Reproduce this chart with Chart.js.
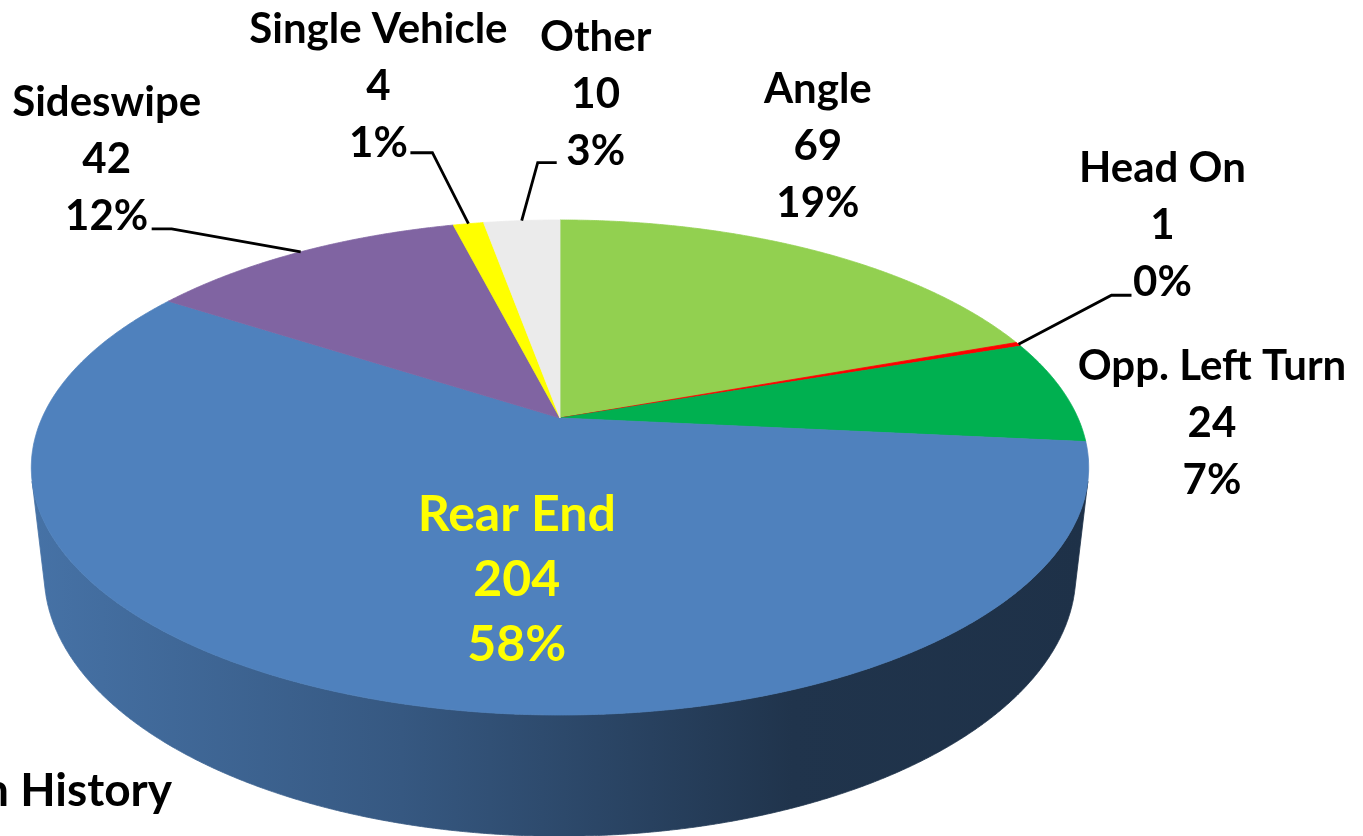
<!DOCTYPE html>
<html>
<head>
<meta charset="utf-8">
<script src="https://cdn.jsdelivr.net/npm/chart.js@4.4.0/dist/chart.umd.min.js"></script>
<style>
  html, body { margin: 0; padding: 0; background: #ffffff; overflow: hidden; }
  #wrap { position: absolute; left: 0; top: 0; width: 1363px; height: 836px; }
</style>
</head>
<body>
<div id="wrap"><canvas id="c" width="1363" height="836"></canvas></div>
<script>
// ---------------- data ----------------
const categories = ['Angle', 'Head On', 'Opp. Left Turn', 'Rear End', 'Sideswipe', 'Single Vehicle', 'Other'];
const crashCounts = [69, 1, 24, 204, 42, 4, 10];
const chartTitle = 'Collision History';

// ---------------- styles ----------------
const sliceColors = ['#92d050', '#ff0000', '#00b050', '#4f81bd', '#8064a2', '#ffff00', '#ebebeb'];

// perspective camera (unit pie radius)
const CAM = { L: 4.444, sin: 0.4587, cos: 0.8886, F: 2302, H: 0.2325 };

// label placement relative to slice rim mid-point; leader points relative to label centre
const labelLayout = [
  { dx: 2,    dy: -104 },
  { dx: 144,  dy: -119, leader: [[-31, 70], [-51, 70]] },
  { dx: 149,  dy: 32 },
  { dx: 168,  dy: -114, inside: true },
  { dx: -194, dy: -92,  leader: [[45, 69], [65, 69]] },
  { dx: -90,  dy: -137, leader: [[32, 66], [54, 66]] },
  { dx: 74,   dy: -126, leader: [[-39, 68], [-58, 68]] }
];

function project(cx, cy, theta, w) {
  const u = Math.cos(theta), v = -Math.sin(theta);
  const d = CAM.L + v * CAM.cos - w * CAM.sin;
  return [cx + CAM.F * u / d, cy - CAM.F * (v * CAM.sin + w * CAM.cos) / d];
}
function shade(hex, f) {
  const n = parseInt(hex.slice(1), 16);
  const r = Math.round(((n >> 16) & 255) * f), g = Math.round(((n >> 8) & 255) * f), b = Math.round((n & 255) * f);
  return 'rgb(' + r + ',' + g + ',' + b + ')';
}

const pie3d = {
  id: 'pie3d',
  beforeDatasetsDraw(chart) {
    const ctx = chart.ctx;
    const meta = chart.getDatasetMeta(0);
    const els = meta.data;
    if (!els.length) return false;
    const cx = els[0].x, cy = els[0].y;
    const step = Math.PI / 720;
    const vis0 = Math.asin(1 / (CAM.L * CAM.cos));
    const vis1 = Math.PI - vis0;
    const leftX = project(cx, cy, vis1, 0)[0];
    const rightX = project(cx, cy, vis0, 0)[0];
    ctx.save();
    // outer walls
    els.forEach((el) => {
      const a0 = Math.max(el.startAngle, vis0), a1 = Math.min(el.endAngle, vis1);
      if (a1 <= a0) return;
      const col = el.options.backgroundColor;
      const g = ctx.createLinearGradient(leftX, 0, rightX, 0);
      g.addColorStop(0, shade(col, 0.88));
      g.addColorStop(0.35, shade(col, 0.68));
      g.addColorStop(0.72, shade(col, 0.40));
      g.addColorStop(1, shade(col, 0.38));
      ctx.beginPath();
      let p = project(cx, cy, a0, 0);
      ctx.moveTo(p[0], p[1]);
      for (let t = a0; t <= a1; t += step) { p = project(cx, cy, t, 0); ctx.lineTo(p[0], p[1]); }
      p = project(cx, cy, a1, 0); ctx.lineTo(p[0], p[1]);
      for (let t = a1; t >= a0; t -= step) { p = project(cx, cy, t, -CAM.H); ctx.lineTo(p[0], p[1]); }
      p = project(cx, cy, a0, -CAM.H); ctx.lineTo(p[0], p[1]);
      ctx.closePath();
      ctx.fillStyle = g;
      ctx.fill();
      ctx.strokeStyle = g; ctx.lineWidth = 0.8; ctx.stroke();
    });
    // top faces
    els.forEach((el) => {
      const col = el.options.backgroundColor;
      ctx.beginPath();
      ctx.moveTo(cx, cy);
      for (let t = el.startAngle; t < el.endAngle; t += step) { const p = project(cx, cy, t, 0); ctx.lineTo(p[0], p[1]); }
      const p = project(cx, cy, el.endAngle, 0); ctx.lineTo(p[0], p[1]);
      ctx.closePath();
      ctx.fillStyle = col; ctx.fill();
      ctx.strokeStyle = col; ctx.lineWidth = 0.8; ctx.lineJoin = 'round'; ctx.stroke();
    });
    ctx.restore();
    return false;
  },
  afterDraw(chart) {
    const ctx = chart.ctx;
    const meta = chart.getDatasetMeta(0);
    const els = meta.data;
    const data = chart.data.datasets[0].data;
    const total = data.reduce((s, v) => s + v, 0);
    const cx = els[0].x, cy = els[0].y;
    ctx.save();
    els.forEach((el, i) => {
      const mid = (el.startAngle + el.endAngle) / 2;
      const anchor = project(cx, cy, mid, 0);
      const lay = labelLayout[i];
      const lx = anchor[0] + lay.dx, ly = anchor[1] + lay.dy;
      const lines = [chart.data.labels[i], String(data[i]), Math.round(data[i] / total * 100) + '%'];
      if (lay.leader) {
        ctx.beginPath();
        ctx.moveTo(lx + lay.leader[0][0], ly + lay.leader[0][1]);
        ctx.lineTo(lx + lay.leader[1][0], ly + lay.leader[1][1]);
        ctx.lineTo(anchor[0], anchor[1]);
        ctx.strokeStyle = '#000000'; ctx.lineWidth = 2.8; ctx.lineJoin = 'miter';
        ctx.stroke();
      }
      ctx.textAlign = 'center';
      ctx.textBaseline = 'middle';
      if (lay.inside) {
        ctx.font = '700 50px Lato';
        ctx.fillStyle = '#ffff00';
        lines.forEach((s, k) => ctx.fillText(s, lx, ly + (k - 1) * 65));
      } else {
        ctx.font = '700 42px Lato';
        ctx.fillStyle = '#000000';
        lines.forEach((s, k) => ctx.fillText(s, lx, ly + (k - 1) * 57));
      }
    });
    // chart title, partly outside the visible area
    ctx.font = '700 46px Lato';
    ctx.fillStyle = '#000000';
    ctx.textAlign = 'right';
    ctx.textBaseline = 'alphabetic';
    ctx.fillText(chartTitle, 172, 806);
    ctx.restore();
  }
};

new Chart(document.getElementById('c'), {
  type: 'pie',
  data: {
    labels: categories,
    datasets: [{ data: crashCounts, backgroundColor: sliceColors, borderWidth: 0 }]
  },
  options: {
    responsive: false,
    animation: false,
    devicePixelRatio: 1,
    layout: { padding: { left: 0, right: 243, top: 0, bottom: 0 } },
    plugins: { legend: { display: false }, tooltip: { enabled: false }, title: { display: false } }
  },
  plugins: [pie3d]
});
</script>
</body>
</html>
